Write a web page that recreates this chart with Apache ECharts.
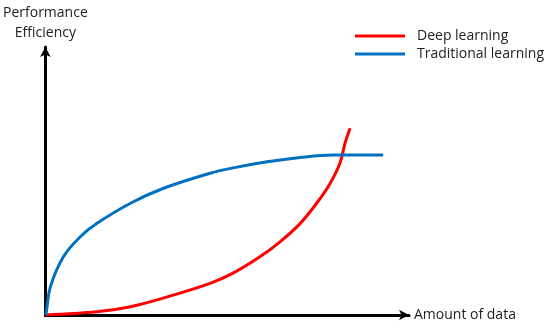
<!DOCTYPE html>
<html>
    <head>
        <meta http-equiv="Content-Type" content="text/html; charset=utf-8" />
        <title>deep-vs-traditional</title>
        <script type="text/javascript" src="https://cdn.jsdelivr.net/npm/echarts@6/dist/echarts.min.js"></script>
        <style>body{margin:0;}</style>
    </head>
    <body>
        <div style="width:550px;height:329px;" id="main"></div>
        <script type="text/javascript">
            // curves: [amount of data, performance]
            var seriesNames = ['Deep learning', 'Traditional learning'];
            var deepData = [[0, 0], [14.2, 1.2], [23.4, 3.1], [32.4, 6.3], [45.3, 11.8], [51.6, 15.6], [59.1, 21.8],
                [64.6, 27.4], [70.1, 34.2], [74.6, 41.7], [78.3, 49.1], [81.0, 56.6], [82.4, 64.1], [83.8, 69.7]];
            var tradData = [[0, 0], [0.2, 0.7], [1.4, 10.6], [5.0, 21.8], [9.6, 29.2], [14.2, 34.2], [23.4, 41.7],
                [32.5, 47.3], [45.3, 52.9], [51.6, 54.9], [61.0, 57.2], [70.1, 58.8], [79.1, 59.7], [92.9, 59.7]];
            var colors = ['#ff0000', '#0070c0'];
            var font = 'Open Sans';

            var myChart = echarts.init(document.getElementById('main'));
            var axisBase = {
                type: 'value',
                min: 0,
                max: 100,
                axisLine: {
                    show: true,
                    symbol: ['none', 'arrow'],
                    symbolSize: [8, 10],
                    lineStyle: {color: '#000', width: 3}
                },
                axisTick: {show: false},
                axisLabel: {show: false},
                splitLine: {show: false},
                nameTextStyle: {color: '#222', fontSize: 14, fontFamily: font, lineHeight: 20}
            };
            var option = {
                animation: false,
                color: colors,
                grid: {left: 45, right: 141, top: 47, bottom: 14},
                legend: {
                    orient: 'vertical',
                    left: 350,
                    top: 24,
                    itemWidth: 50,
                    itemHeight: 3,
                    itemGap: 4,
                    icon: 'rect',
                    textStyle: {color: '#222', fontSize: 14, fontFamily: font, padding: [0, 0, 0, 7]},
                    data: seriesNames
                },
                xAxis: Object.assign({}, axisBase, {
                    name: 'Amount of data',
                    nameLocation: 'end',
                    nameGap: 5,
                    nameTextStyle: {color: '#222', fontSize: 14, fontFamily: font, align: 'left', verticalAlign: 'middle'}
                }),
                yAxis: Object.assign({}, axisBase, {
                    name: 'Performance\nEfficiency',
                    nameLocation: 'end',
                    nameGap: 4
                }),
                series: [
                    {
                        name: seriesNames[0],
                        type: 'line',
                        data: deepData,
                        smooth: 0.35,
                        showSymbol: false,
                        lineStyle: {width: 3}
                    },
                    {
                        name: seriesNames[1],
                        type: 'line',
                        data: tradData,
                        smooth: 0.35,
                        showSymbol: false,
                        lineStyle: {width: 3}
                    }
                ]
            };
            myChart.setOption(option);
        </script>
    </body>
</html>
